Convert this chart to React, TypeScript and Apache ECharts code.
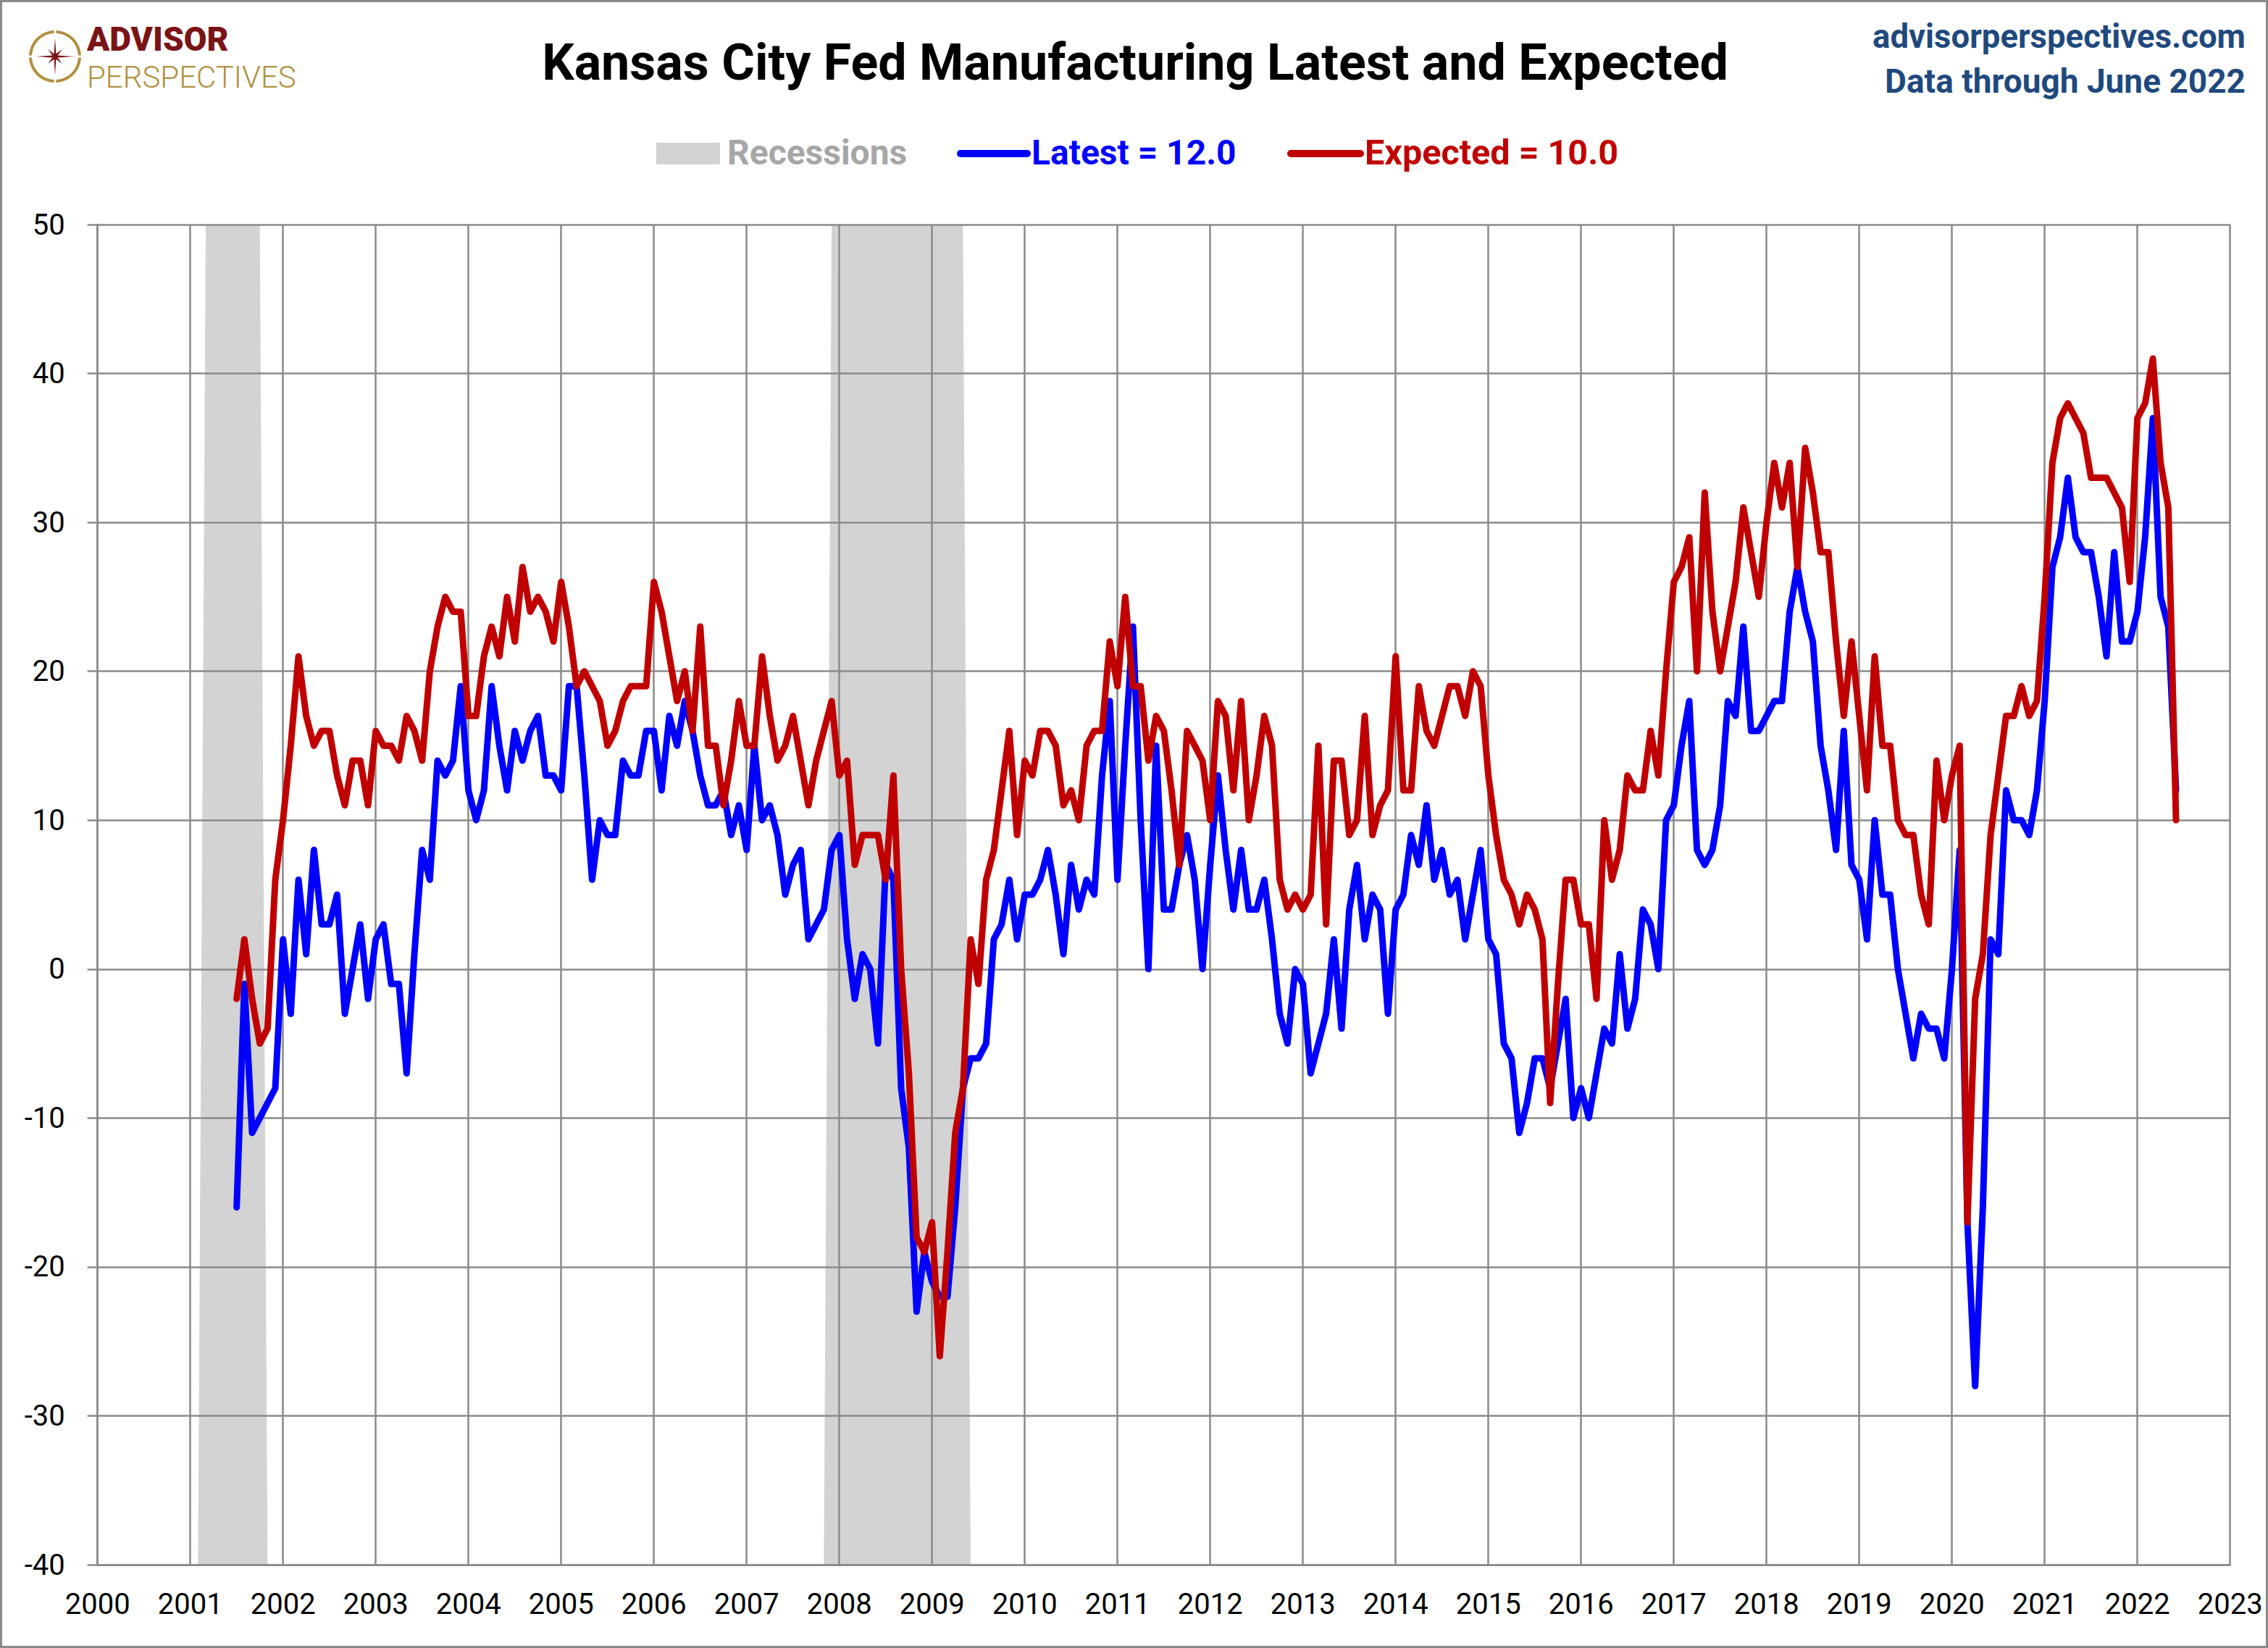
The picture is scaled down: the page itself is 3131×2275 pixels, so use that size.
import React, { useEffect, useRef } from "react";
import * as echarts from "echarts";

// ---------------- DATA ----------------
// Monthly series, July 2001 .. June 2022
const START_YEAR = 2001;
const START_MONTH = 7;

const latest: number[] = [
  -16, -1, -11, -10, -9, -8, // 2001 H2
  2, -3, 6, 1, 8, 3, 3, 5, -3, 0, 3, -2, // 2002
  2, 3, -1, -1, -7, 1, 8, 6, 14, 13, 14, 19, // 2003
  12, 10, 12, 19, 15, 12, 16, 14, 16, 17, 13, 13, // 2004
  12, 19, 19, 13, 6, 10, 9, 9, 14, 13, 13, 16, // 2005
  16, 12, 17, 15, 18, 16, 13, 11, 11, 12, 9, 11, // 2006
  8, 15, 10, 11, 9, 5, 7, 8, 2, 3, 4, 8, // 2007
  9, 2, -2, 1, 0, -5, 7, 6, -8, -12, -23, -19, // 2008
  -21, -22, -22, -16, -8, -6, -6, -5, 2, 3, 6, 2, // 2009
  5, 5, 6, 8, 5, 1, 7, 4, 6, 5, 13, 18, // 2010
  6, 15, 23, 10, 0, 15, 4, 4, 7, 9, 6, 0, // 2011
  7, 13, 8, 4, 8, 4, 4, 6, 2, -3, -5, 0, // 2012
  -1, -7, -5, -3, 2, -4, 4, 7, 2, 5, 4, -3, // 2013
  4, 5, 9, 7, 11, 6, 8, 5, 6, 2, 5, 8, // 2014
  2, 1, -5, -6, -11, -9, -6, -6, -8, -5, -2, -10, // 2015
  -8, -10, -7, -4, -5, 1, -4, -2, 4, 3, 0, 10, // 2016
  11, 15, 18, 8, 7, 8, 11, 18, 17, 23, 16, 16, // 2017
  17, 18, 18, 24, 27, 24, 22, 15, 12, 8, 16, 7, // 2018
  6, 2, 10, 5, 5, 0, -3, -6, -3, -4, -4, -6, // 2019
  0, 8, -17, -28, -16, 2, 1, 12, 10, 10, 9, 12, // 2020
  18, 27, 29, 33, 29, 28, 28, 25, 21, 28, 22, 22, // 2021
  24, 29, 37, 25, 23, 12, // 2022 H1
];

const expected: number[] = [
  -2, 2, -2, -5, -4, 6, // 2001 H2
  10, 15, 21, 17, 15, 16, 16, 13, 11, 14, 14, 11, // 2002
  16, 15, 15, 14, 17, 16, 14, 20, 23, 25, 24, 24, // 2003
  17, 17, 21, 23, 21, 25, 22, 27, 24, 25, 24, 22, // 2004
  26, 23, 19, 20, 19, 18, 15, 16, 18, 19, 19, 19, // 2005
  26, 24, 21, 18, 20, 16, 23, 15, 15, 11, 14, 18, // 2006
  15, 15, 21, 17, 14, 15, 17, 14, 11, 14, 16, 18, // 2007
  13, 14, 7, 9, 9, 9, 6, 13, 0, -7, -18, -19, // 2008
  -17, -26, -19, -11, -8, 2, -1, 6, 8, 12, 16, 9, // 2009
  14, 13, 16, 16, 15, 11, 12, 10, 15, 16, 16, 22, // 2010
  19, 25, 19, 19, 14, 17, 16, 12, 7, 16, 15, 14, // 2011
  10, 18, 17, 12, 18, 10, 13, 17, 15, 6, 4, 5, // 2012
  4, 5, 15, 3, 14, 14, 9, 10, 17, 9, 11, 12, // 2013
  21, 12, 12, 19, 16, 15, 17, 19, 19, 17, 20, 19, // 2014
  13, 9, 6, 5, 3, 5, 4, 2, -9, -1, 6, 6, // 2015
  3, 3, -2, 10, 6, 8, 13, 12, 12, 16, 13, 20, // 2016
  26, 27, 29, 20, 32, 24, 20, 23, 26, 31, 28, 25, // 2017
  30, 34, 31, 34, 27, 35, 32, 28, 28, 22, 17, 22, // 2018
  17, 12, 21, 15, 15, 10, 9, 9, 5, 3, 14, 10, // 2019
  13, 15, -17, -2, 1, 9, 13, 17, 17, 19, 17, 18, // 2020
  25, 34, 37, 38, 37, 36, 33, 33, 33, 32, 31, 26, // 2021
  37, 38, 41, 34, 31, 10, // 2022 H1
];

// NBER recessions (first and last full month shown at full height)
const recessionPeriods: [string, string][] = [
  ["2001-03", "2001-10"],
  ["2007-12", "2009-05"],
];

const X_MIN = 2000;
const X_MAX = 2023;
const Y_MIN = -40;
const Y_MAX = 50;
const Y_STEP = 10;

// ---------------- HELPERS ----------------
const monthToX = (i: number) => START_YEAR + (START_MONTH - 1 + i) / 12;
const ymToX = (s: string) => {
  const [y, m] = s.split("-").map(Number);
  return y + (m - 1) / 12;
};

const FONT = "Roboto, 'Liberation Sans', sans-serif";
const BLUE = "#0000FF";
const RED = "#C00000";
const GRID = "#8A8A8A";

export default function App() {
  const ref = useRef<HTMLDivElement>(null);

  useEffect(() => {
    if (!ref.current) return;
    const chart = echarts.init(ref.current, null, { renderer: "svg" });

    const latestData = latest.map((v, i) => [monthToX(i), v]);
    const expectedData = expected.map((v, i) => [monthToX(i), v]);

    const recessionSeries = recessionPeriods.map(([from, to], k) => {
      const a = ymToX(from);
      const b = ymToX(to);
      const ramp = 1 / 12;
      return {
        name: "Recessions" + k,
        type: "line",
        data: [
          [a - ramp, Y_MIN],
          [a, Y_MAX],
          [b, Y_MAX],
          [b + ramp, Y_MIN],
        ],
        showSymbol: false,
        symbol: "none",
        lineStyle: { width: 0 },
        areaStyle: { color: "#D3D3D3", opacity: 1, origin: "start" },
        z: -1,
        silent: true,
      };
    });

    const lastLatest = latest[latest.length - 1].toFixed(1);
    const lastExpected = expected[expected.length - 1].toFixed(1);

    // logo star
    const cx = 76,
      cy = 78;
    const starPts: number[][] = [];
    for (let i = 0; i < 16; i++) {
      const ang = (i * Math.PI) / 8 - Math.PI / 2;
      let r: number;
      if (i % 2 === 1) r = 6;
      else if (i % 4 === 0) r = 41;
      else r = 21;
      starPts.push([cx + r * Math.cos(ang), cy + r * Math.sin(ang)]);
    }

    const option: any = {
      animation: false,
      backgroundColor: "#FFFFFF",
      grid: { left: 134.7, right: 52.3, top: 310, bottom: 115, containLabel: false },
      xAxis: {
        type: "value",
        min: X_MIN,
        max: X_MAX,
        interval: 1,
        axisLine: { show: true, onZero: false, lineStyle: { color: GRID, width: 2.5 } },
        axisTick: { show: false },
        splitLine: { show: true, lineStyle: { color: GRID, width: 2.5 } },
        axisLabel: {
          show: true,
          showMinLabel: true,
          showMaxLabel: true,
          color: "#000",
          fontFamily: FONT,
          fontSize: 40,
          margin: 34,
          formatter: (v: number) => String(Math.round(v)),
        },
      },
      yAxis: {
        type: "value",
        min: Y_MIN,
        max: Y_MAX,
        interval: Y_STEP,
        axisLine: { show: true, lineStyle: { color: GRID, width: 2.5 } },
        axisTick: { show: true, length: 14, lineStyle: { color: GRID, width: 2.5 } },
        splitLine: { show: true, lineStyle: { color: GRID, width: 2.5 } },
        axisLabel: {
          color: "#000",
          fontFamily: FONT,
          fontSize: 40,
          margin: 45,
        },
      },
      series: [
        ...recessionSeries,
        {
          name: "Latest",
          type: "line",
          data: latestData,
          showSymbol: false,
          symbol: "none",
          lineStyle: { color: BLUE, width: 9, join: "round", cap: "round" },
          z: 3,
        },
        {
          name: "Expected",
          type: "line",
          data: expectedData,
          showSymbol: false,
          symbol: "none",
          lineStyle: { color: RED, width: 9, join: "round", cap: "round" },
          z: 4,
        },
      ],
      graphic: [
        {
          type: "rect",
          shape: { x: 1.5, y: 1.5, width: 3128, height: 2272 },
          style: { fill: "none", stroke: GRID, lineWidth: 3 },
          silent: true,
        },
        // title
        {
          type: "text",
          x: 1567,
          y: 86,
          style: {
            text: "Kansas City Fed Manufacturing Latest and Expected",
            fill: "#000",
            font: `bold 70px ${FONT}`,
            align: "center",
            verticalAlign: "middle",
          },
        },
        {
          type: "text",
          x: 3100,
          y: 50,
          style: {
            text: "advisorperspectives.com",
            fill: "#1F497D",
            font: `bold 45.5px ${FONT}`,
            lineHeight: 50,
            align: "right",
            verticalAlign: "middle",
          },
        },
        {
          type: "text",
          x: 3100,
          y: 112,
          style: {
            text: "Data through June 2022",
            fill: "#1F497D",
            font: `bold 46px ${FONT}`,
            lineHeight: 50,
            align: "right",
            verticalAlign: "middle",
          },
        },
        // legend
        {
          type: "rect",
          shape: { x: 906, y: 197, width: 88, height: 30 },
          style: { fill: "#D3D3D3" },
        },
        {
          type: "text",
          x: 1004,
          y: 210,
          style: {
            text: "Recessions",
            fill: "#A6A6A6",
            font: `bold 48px ${FONT}`,
            align: "left",
            verticalAlign: "middle",
          },
        },
        {
          type: "line",
          shape: { x1: 1326, y1: 212, x2: 1418, y2: 212 },
          style: { stroke: BLUE, lineWidth: 10, lineCap: "round" },
        },
        {
          type: "text",
          x: 1424,
          y: 210,
          style: {
            text: `Latest = ${lastLatest}`,
            fill: BLUE,
            font: `bold 48px ${FONT}`,
            align: "left",
            verticalAlign: "middle",
          },
        },
        {
          type: "line",
          shape: { x1: 1782, y1: 212, x2: 1878, y2: 212 },
          style: { stroke: RED, lineWidth: 10, lineCap: "round" },
        },
        {
          type: "text",
          x: 1884,
          y: 210,
          style: {
            text: `Expected = ${lastExpected}`,
            fill: RED,
            font: `bold 48.5px ${FONT}`,
            align: "left",
            verticalAlign: "middle",
          },
        },
        // logo
        {
          type: "ring",
          shape: { cx, cy, r: 36, r0: 32 },
          style: { fill: "#B0903F" },
        },
        {
          type: "polygon",
          shape: { points: starPts },
          style: { fill: "#7A1416", stroke: "#FFFFFF", lineWidth: 2 },
        },
        {
          type: "text",
          x: 120,
          y: 54,
          style: {
            text: "ADVISOR",
            fill: "#7A1416",
            font: `900 46px ${FONT}`,
            align: "left",
            verticalAlign: "middle",
          },
        },
        {
          type: "text",
          x: 120,
          y: 106,
          style: {
            text: "PERSPECTIVES",
            fill: "#B0903F",
            font: `300 42px ${FONT}`,
            align: "left",
            verticalAlign: "middle",
          },
        },
      ],
    };

    chart.setOption(option);
    return () => chart.dispose();
  }, []);

  return (
    <div
      ref={ref}
      style={{ position: "absolute", left: 0, top: 0, width: 3131, height: 2275, background: "#fff" }}
    />
  );
}
